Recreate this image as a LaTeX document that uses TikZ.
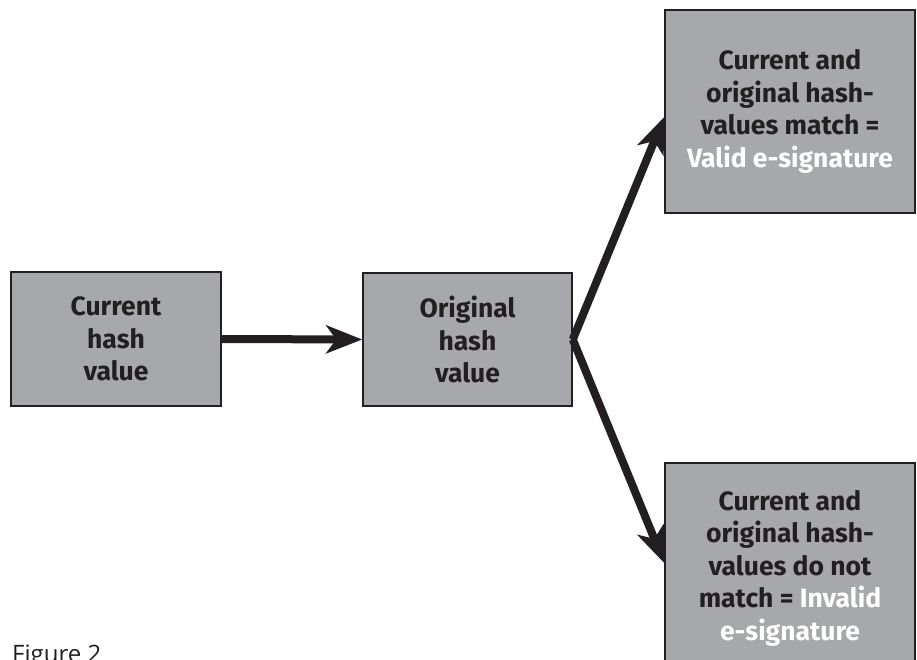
\documentclass[tikz,border=0pt]{standalone}
\usepackage{fontspec}
\setmainfont{Fira Sans}
\newfontfamily\figfont{Open Sans}
\usetikzlibrary{arrows.meta}
\definecolor{boxgray}{HTML}{A7A8AB}
\definecolor{ink}{HTML}{231F20}
\tikzset{
  hashbox/.style={draw=ink, line width=1.6pt, fill=boxgray, align=center,
    text=ink, font=\fontsize{26.5}{32.5}\selectfont\bfseries, inner sep=0pt},
  flowarrow/.style={draw=ink, line width=8pt,
    -{Stealth[length=36pt,width=28pt,inset=10pt]}},
}
\begin{document}
\begin{tikzpicture}[x=1pt,y=1pt]
\useasboundingbox (0,0) rectangle (917,659);
\node[hashbox, minimum width=210pt, minimum height=134pt] (L) at (116,320)
  {Current\\hash\\value};
\node[hashbox, minimum width=209pt, minimum height=133pt] (M) at (467.5,319.5)
  {Original\\hash\\value};
\node[hashbox, minimum width=250pt, minimum height=203pt] (TR) at (790,547.5)
  {Current and\\original hash-\\values match =\\\textcolor{white}{Valid e-signature}};
\node[hashbox, minimum width=250pt, minimum height=210pt] (BR) at (790,91)
  {Current and\\original hash-\\values do not\\match = \textcolor{white}{Invalid}\\\textcolor{white}{e-signature}};
\draw[flowarrow] (L.east) -- (M.west);
\draw[flowarrow] (M.east) -- ([yshift=-5.5pt]TR.west);
\draw[flowarrow] (M.east) -- ([yshift=5pt]BR.west);
\node[anchor=base west, inner sep=0pt, text=ink, font=\figfont\fontsize{24}{28}\selectfont] (fig) at (12,-3) {Figure 2};
\end{tikzpicture}
\end{document}
